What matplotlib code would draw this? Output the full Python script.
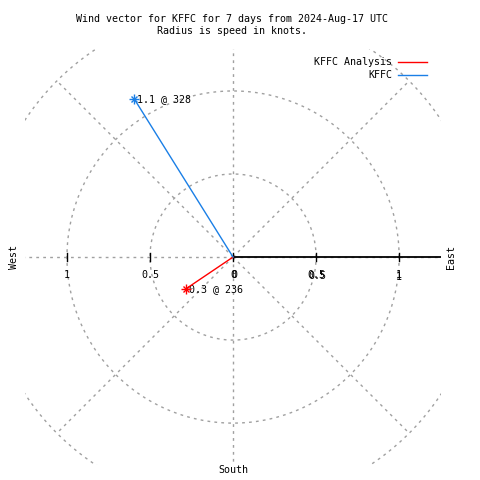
import matplotlib
matplotlib.use("Agg")
import matplotlib.pyplot as plt
import numpy as np

# wind vectors: speed (knots) and direction (deg from north)
series = ["KFFC Analysis", "KFFC"]
speeds = [0.34, 1.12]
directions = [236, 328]
colors = ["#ff0000", "#1a7fe6"]

ring_radii = [0.5, 1.0, 1.5]
spoke_angles = [0, 45, 90, 135, 180, 225, 270, 315]
tick_vals = [-1.0, -0.5, 0.0, 0.5, 1.0]
tick_labels = ["1", "0.5", "0", "0.5", "1"]

title = "Wind vector for KFFC for 7 days from 2024-Aug-17 UTC\nRadius is speed in knots."

plt.rcParams["font.family"] = ["DejaVu Sans Mono"]
FS = 7.2
GRID = "#a0a0a0"
DASH = (0, (2, 3))
LIM = 1.25

fig = plt.figure(figsize=(4.8, 4.8), dpi=100)
ax = fig.add_axes([0.053, 0.032, 0.865, 0.865])
ax.set_xlim(-LIM, LIM); ax.set_ylim(-LIM, LIM)
ax.set_aspect("equal")
ax.axis("off")

# polar grid
th = np.linspace(0, 2 * np.pi, 400)
for r in ring_radii:
    ax.plot(r * np.cos(th), r * np.sin(th), color=GRID, lw=1, ls=DASH, clip_on=True)
for a in spoke_angles:
    t = np.radians(a)
    ax.plot([0, 1.5 * np.cos(t)], [0, 1.5 * np.sin(t)], color=GRID, lw=1, ls=DASH, clip_on=True)

# radial axis (east) and ticks
ax.plot([0, LIM], [0, 0], color="black", lw=1.3, zorder=3)
for v in tick_vals:
    ax.plot([v, v], [-0.025, 0.025], color="black", lw=1, zorder=3)
for v, s in zip(tick_vals, tick_labels):
    ax.annotate(s, (v, 0), xytext=(0, -18), textcoords="offset pixels",
                ha="center", va="center", fontsize=FS)
# r-axis labels drawn again on the right (slightly offset, as in the original)
for v, s, off in [(0.0, "0", (1, -18)), (0.5, "0.5", (1, -19)), (1.0, "1", (0, -20))]:
    ax.annotate(s, (v, 0), xytext=off, textcoords="offset pixels",
                ha="center", va="center", fontsize=FS)

# vectors
for sp, d, c in zip(speeds, directions, colors):
    t = np.radians(d)
    x, y = sp * np.sin(t), sp * np.cos(t)
    ax.plot([0, x], [0, y], color=c, lw=1, zorder=4)
    ax.plot([x], [y], marker="+", color=c, ms=7, mew=1, zorder=5)
    ax.plot([x], [y], marker="x", color=c, ms=5, mew=1, zorder=5)
    ax.annotate(f"{sp:.1f} @ {d}", (x, y), xytext=(3, 0), textcoords="offset pixels",
                ha="left", va="center", fontsize=FS)

# title and compass labels
fig.text(232 / 480, 1 - 25 / 480, title, ha="center", va="center", fontsize=FS, linespacing=1.35)
fig.text(14 / 480, 1 - 257 / 480, "West", rotation=90, ha="center", va="center", fontsize=FS)
fig.text(451 / 480, 1 - 257 / 480, "East", rotation=90, ha="center", va="center", fontsize=FS)
fig.text(233 / 480, 1 - 470 / 480, "South", ha="center", va="center", fontsize=FS)

# legend
for i, (name, c) in enumerate(zip(series, colors)):
    yy = 1 - (62 + 13 * i) / 480
    fig.text(392 / 480, yy, name, ha="right", va="center", fontsize=FS)
    fig.add_artist(plt.Line2D([398 / 480, 427 / 480], [yy, yy], color=c, lw=1,
                              transform=fig.transFigure))

fig.savefig("out.png", dpi=100)
